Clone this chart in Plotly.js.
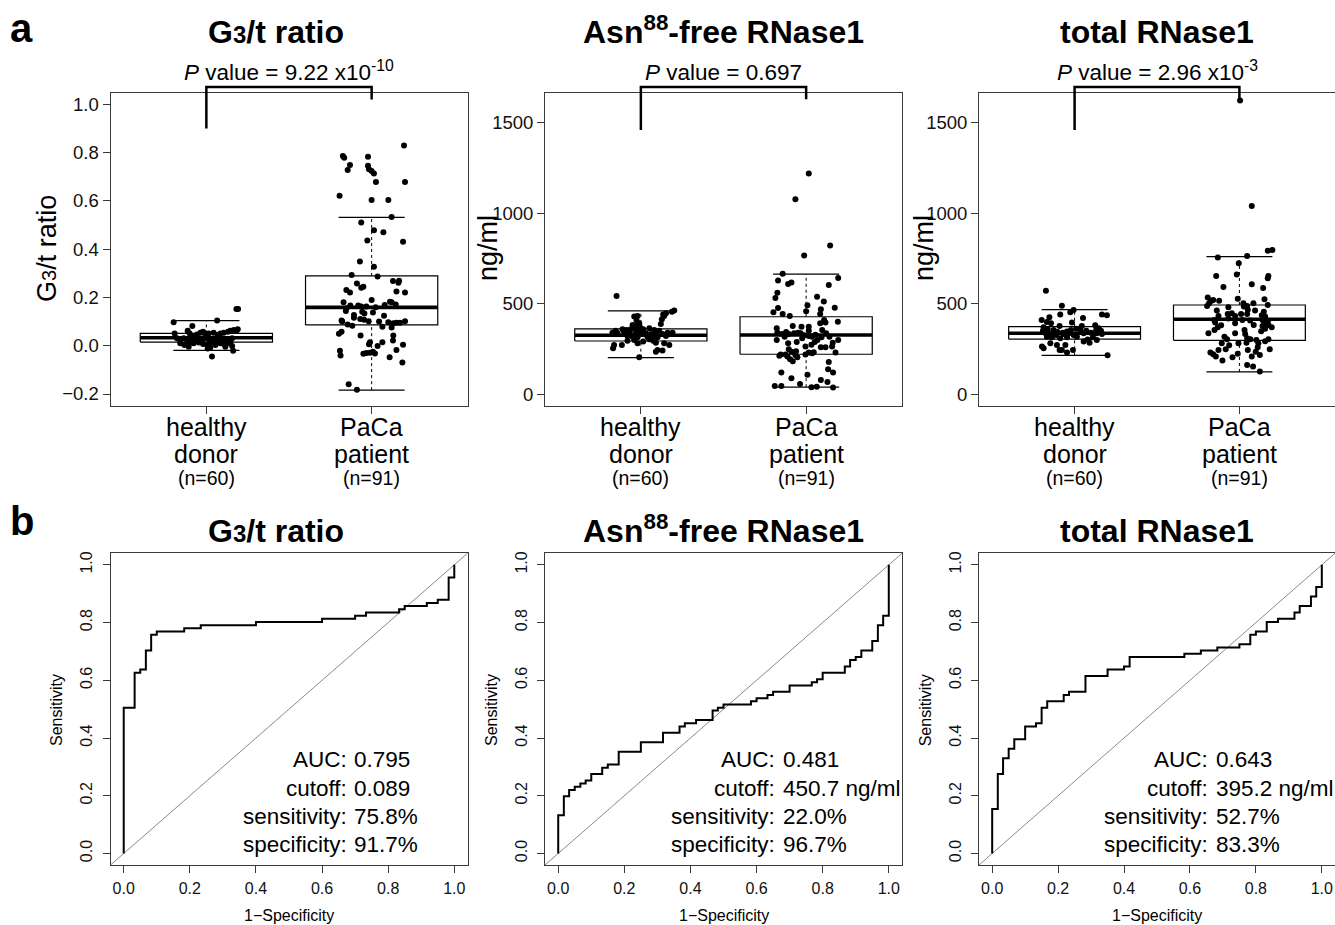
<!DOCTYPE html>
<html><head><meta charset="utf-8">
<script src="https://cdn.plot.ly/plotly-3.0.1.min.js"></script>
<style>html,body{margin:0;padding:0;background:#fff}#chart{width:1335px;height:925px}</style>
</head><body><div id="chart"></div>
<script>
// ================= DATA =================
const groupLine1 = ['healthy', 'PaCa'];
const groupLine2 = ['donor', 'patient'];
const groupN = ['(n=60)', '(n=91)'];
const panelTitles = ['G<span style="font-size:24px">3</span>/t ratio', 'Asn<sup>88</sup>-free RNase1', 'total RNase1'];
const pValueText = ['<i>P</i> value = 9.22 x10<sup>-10</sup>', '<i>P</i> value = 0.697', '<i>P</i> value = 2.96 x10<sup>-3</sup>'];
const yTitles = ['G<span style="font-size:20px">3</span>/t ratio', 'ng/ml', 'ng/ml'];

// G3/t ratio
const g3HealthyVal = [0.097,0.104,0.152,0.152,0.082,0.051,0.062,0.051,0.037,0.047,
 0.054,0.058,0.048,0.051,0.054,0.044,0.051,0.054,0.058,0.062,
 0.065,0.062,0.068,0.031,0.024,0.031,0.024,0.026,0.024,0.017,
 0.024,0.031,0.026,0.024,0.017,0.024,0.021,0.026,0.024,0.031,
 0.010,0.003,0.007,0.010,0.013,0.007,0.003,0.010,0.003,0.010,
 0.007,0.010,0.017,-0.004,-0.011,-0.004,-0.001,-0.021,-0.045,-0.007];
const g3HealthyJit = [-0.198,0.065,0.182,0.192,-0.085,-0.192,-0.113,-0.101,-0.077,-0.057,
 -0.036,-0.020,-0.006,0.014,0.044,0.069,0.085,0.105,0.131,0.145,
 0.166,0.182,0.190,-0.178,-0.158,-0.137,-0.117,-0.097,-0.067,-0.046,
 -0.026,-0.012,0.014,0.034,0.055,0.075,0.095,0.115,0.135,0.156,
 -0.158,-0.133,-0.107,-0.077,-0.046,-0.020,0.004,0.024,0.055,0.085,
 0.105,0.129,0.145,-0.107,0.008,0.115,0.156,0.162,0.034,0.024];
const g3PacaVal = [0.829,0.786,0.779,0.783,0.749,0.728,0.746,0.731,0.724,0.714,
 0.678,0.678,0.621,0.604,0.604,0.533,0.510,0.478,0.470,0.436,
 0.431,0.349,0.327,0.293,0.287,0.268,0.269,0.261,0.258,0.244,
 0.240,0.231,0.221,0.225,0.220,0.180,0.189,0.182,0.180,0.171,
 0.167,0.155,0.167,0.163,0.169,0.163,0.159,0.141,0.133,0.138,
 0.144,0.116,0.111,0.124,0.104,0.100,0.108,0.101,0.100,0.097,
 0.093,0.095,0.095,0.101,0.088,0.083,0.076,0.050,0.058,0.042,
 0.042,0.014,0.006,0.014,-0.001,0.022,0.004,-0.018,-0.021,-0.041,
 -0.033,-0.030,-0.029,-0.025,-0.032,-0.048,-0.069,-0.160,-0.182,0.127,0.079];
const g3PacaJit = [0.196,-0.174,-0.166,-0.022,-0.131,-0.145,-0.022,-0.016,0.000,0.014,
 0.026,0.202,-0.194,0.000,0.101,0.121,-0.063,0.014,0.071,-0.026,
 0.190,-0.071,0.014,-0.121,0.036,0.129,0.166,0.162,-0.089,-0.050,
 -0.063,-0.153,-0.131,0.150,0.202,-0.170,0.000,0.111,0.121,0.146,
 -0.129,-0.153,-0.081,-0.063,0.079,-0.032,0.024,-0.057,-0.044,0.008,
 -0.156,-0.107,-0.069,0.075,-0.182,-0.178,-0.046,-0.018,0.045,0.101,
 0.131,0.150,0.172,0.202,-0.145,-0.117,0.121,-0.198,-0.182,-0.067,
 0.131,-0.010,-0.016,0.065,0.036,0.129,0.190,0.150,-0.192,-0.188,
 -0.050,-0.032,-0.010,0.008,0.020,0.109,0.186,-0.139,-0.089,-0.107,0.065];
const g3Lo = [-0.019, -0.184], g3Q1 = [0.015, 0.086], g3Med = [0.033, 0.159], g3Q3 = [0.051, 0.289], g3Hi = [0.104, 0.532];

// Asn88-free RNase1 (ng/ml)
const asnHealthyVal = [543,440,447,456,462,429,432,407,392,414,
 432,383,377,373,388,351,359,355,359,364,
 355,359,364,355,351,340,337,342,340,337,
 340,337,333,337,333,340,340,322,318,315,
 318,309,315,322,272,254,272,296,300,281,
 291,296,285,281,272,235,245,241,204,304];
const asnHealthyJit = [-0.147,0.135,0.152,0.188,0.202,-0.040,-0.020,-0.026,-0.010,0.127,
 0.141,-0.050,-0.026,-0.006,0.121,-0.152,-0.111,-0.087,-0.061,-0.040,
 -0.020,0.014,0.051,0.081,0.111,-0.172,-0.141,-0.101,-0.067,-0.030,
 0.000,0.030,0.061,0.087,0.131,0.162,0.192,-0.081,-0.050,-0.020,
 0.040,0.071,0.101,0.152,-0.162,-0.168,-0.115,-0.081,-0.040,-0.020,
 0.014,0.075,0.091,0.141,0.172,0.091,0.101,0.131,-0.010,0.051];
const asnPacaVal = [1220,1077,821,766,666,642,628,609,617,604,
 561,532,539,512,469,491,458,477,453,443,
 432,478,401,443,410,396,392,377,373,373,
 351,364,340,344,333,333,337,340,337,326,
 322,318,329,337,318,300,281,289,274,289,
 315,259,259,263,300,248,234,219,212,219,
 208,193,182,237,204,219,230,226,232,230,
 178,138,120,120,88,107,57,79,68,46,
 46,39,42,37,318,309,263,300,217,355,285];
const asnPacaJit = [0.016,-0.065,0.145,-0.012,-0.142,0.194,-0.170,-0.109,-0.089,0.137,
 -0.174,-0.186,0.066,0.107,0.089,0.008,0.000,-0.170,-0.198,-0.142,
 -0.099,0.173,0.192,0.085,0.109,0.117,0.085,-0.081,-0.028,0.016,
 0.016,-0.178,-0.174,-0.121,-0.146,-0.105,-0.073,-0.049,-0.033,-0.012,
 0.016,0.036,0.056,0.121,0.141,-0.178,-0.109,-0.057,0.032,0.052,
 0.093,0.089,0.117,0.157,0.194,-0.105,-0.089,-0.154,-0.162,-0.125,
 -0.113,-0.097,-0.081,-0.061,-0.053,-0.004,0.016,0.036,0.046,0.178,
 0.137,0.133,0.163,-0.150,-0.089,0.008,-0.037,0.089,0.129,-0.190,
 -0.150,0.032,0.064,0.163,-0.130,-0.024,-0.004,0.068,-0.065,0.097,0.161];
const asnLo = [202, 39], asnQ1 = [294, 221], asnMed = [326, 327], asnQ3 = [361, 428], asnHi = [460, 664];

// total RNase1 (ng/ml)
const totHealthyVal = [572,489,453,465,440,425,410,440,436,421,
 399,392,377,396,377,381,370,359,351,355,
 344,340,346,355,362,359,351,355,364,351,
 337,333,327,333,337,327,337,340,337,333,
 318,315,309,315,318,303,315,300,285,291,
 263,254,281,272,272,245,245,230,245,215];
const totHealthyJit = [-0.174,-0.077,-0.026,-0.006,-0.087,-0.153,-0.200,0.166,0.196,0.051,
 -0.168,-0.143,-0.091,-0.016,0.044,0.125,-0.188,-0.163,-0.192,-0.127,
 -0.103,-0.071,-0.046,-0.022,0.010,0.034,0.071,0.131,0.146,0.160,
 -0.176,-0.147,-0.111,-0.067,-0.036,-0.006,0.055,0.099,0.135,0.166,
 -0.168,-0.137,-0.087,-0.046,0.014,0.079,0.111,0.135,0.091,0.055,
 -0.198,-0.188,-0.147,-0.107,-0.056,-0.091,-0.077,-0.046,-0.010,0.200];
const totPacaVal = [1623,1040,793,797,755,764,723,662,653,640,
 653,592,607,587,534,515,521,517,488,462,
 480,528,502,488,502,524,493,502,443,447,
 432,443,484,466,462,443,436,429,410,396,
 418,410,407,410,392,403,383,370,337,355,
 370,381,337,355,333,309,377,362,348,304,
 281,270,285,304,300,281,292,304,259,248,
 230,221,208,245,248,186,204,223,245,235,
 217,162,153,125,432,392,383,318,281,208,456];
const totPacaJit = [0.004,0.075,0.172,0.200,-0.131,0.047,-0.004,-0.016,0.176,0.172,
 -0.141,-0.097,0.075,0.144,-0.192,-0.172,-0.159,-0.123,-0.196,-0.137,
 -0.067,-0.010,0.024,0.047,0.085,0.152,0.172,-0.184,-0.071,-0.046,
 -0.026,0.010,0.027,0.051,0.095,0.047,0.136,0.156,-0.153,-0.147,
 -0.067,0.018,0.065,0.140,0.152,0.172,0.176,0.196,-0.188,-0.151,
 -0.131,-0.111,-0.026,0.031,0.035,0.047,0.140,0.156,0.132,-0.075,
 -0.107,-0.062,0.043,0.067,0.103,0.115,0.156,0.176,0.111,0.184,
 -0.176,-0.159,-0.143,-0.127,-0.083,-0.103,-0.042,-0.010,0.051,0.099,
 0.124,0.047,0.083,0.124,-0.127,-0.026,0.087,-0.091,-0.006,0.075,0.148];
const totLo = [215, 123], totQ1 = [304, 298], totMed = [337, 414], totQ3 = [373, 493], totHi = [467, 760];

// ROC curves (1-specificity, sensitivity)
const g3Fpr = [0,0.033,0.05,0.067,0.083,0.1,0.183,0.233,0.4,0.6,0.7,0.733,0.833,0.85,0.917,0.95,0.983,1.0,1.0];
const g3Tpr = [0,0.505,0.626,0.637,0.703,0.758,0.769,0.780,0.791,0.802,0.813,0.824,0.835,0.846,0.857,0.868,0.879,0.956,1.0];
const asnFpr = [0,0.017,0.033,0.05,0.067,0.083,0.1,0.133,0.15,0.183,0.25,0.317,0.367,0.383,0.417,0.467,0.483,0.5,0.583,0.6,0.633,0.65,0.7,0.767,0.783,0.8,0.867,0.883,0.9,0.917,0.95,0.967,0.983,1.0,1.0];
const asnTpr = [0,0.132,0.198,0.220,0.231,0.242,0.253,0.275,0.297,0.308,0.352,0.385,0.418,0.440,0.451,0.462,0.495,0.505,0.516,0.527,0.538,0.549,0.560,0.582,0.593,0.604,0.626,0.648,0.670,0.681,0.703,0.736,0.791,0.824,1.0];
const totFpr = [0,0.017,0.033,0.05,0.067,0.1,0.133,0.15,0.167,0.217,0.233,0.283,0.35,0.4,0.417,0.583,0.633,0.683,0.75,0.783,0.8,0.833,0.867,0.917,0.933,0.967,0.983,1.0,1.0];
const totTpr = [0,0.154,0.275,0.330,0.363,0.396,0.440,0.451,0.505,0.527,0.549,0.560,0.615,0.637,0.648,0.681,0.692,0.703,0.714,0.725,0.758,0.769,0.802,0.813,0.835,0.857,0.890,0.923,1.0];

const rocAUC = ['0.795', '0.481', '0.643'];
const rocCutoff = ['0.089', '450.7 ng/ml', '395.2 ng/ml'];
const rocSens = ['75.8%', '22.0%', '52.7%'];
const rocSpec = ['91.7%', '96.7%', '83.3%'];
const rocLabels = ['AUC:', 'cutoff:', 'sensitivity:', 'specificity:'];

// ================= LAYOUT HELPERS =================
const W = 1335, H = 925;
const FONT = 'Liberation Sans, Arial, Helvetica, sans-serif';
const px2x = p => p / W;
const px2y = p => 1 - p / H;
const colPx = [[110.5, 467.5], [545, 902], [979, 1335]];
const colDom = colPx.map(c => [px2x(c[0]), px2x(c[1])]);
const topDom = [px2y(406), px2y(93)];
const botDom = [px2y(865), px2y(553.3)];
const topRanges = [[-0.2497, 1.047], [-65, 1664], [-65, 1664]];
const topTicks = [[-0.2, 0, 0.2, 0.4, 0.6, 0.8, 1.0], [0, 500, 1000, 1500], [0, 500, 1000, 1500]];
const rocRange = [-0.04, 1.04];
const BW = 0.4, CW = 0.2;

const axBase = {
  showline: true, mirror: true, linecolor: '#3a3a3a', linewidth: 1,
  ticks: 'outside', ticklen: 7, tickwidth: 1, tickcolor: '#3a3a3a',
  showgrid: false, zeroline: false, fixedrange: true,
  tickfont: {family: FONT, size: 16, color: '#111'}
};
const sfx = i => (i === 1 ? '' : String(i));
function toPaperY(v, dom, rng) { return dom[0] + (v - rng[0]) / (rng[1] - rng[0]) * (dom[1] - dom[0]); }
// bottom edge (px) of an annotation box whose text baseline sits at `base` px
const boxBottom = (base, size) => base + 0.212 * size + 2;

const layout = {
  width: W, height: H, margin: {l: 0, r: 0, t: 0, b: 0},
  paper_bgcolor: '#fff', plot_bgcolor: '#fff', showlegend: false,
  font: {family: FONT, color: '#000'},
  annotations: [], shapes: []
};
const traces = [];

const boxStats = [
  [g3Lo, g3Q1, g3Med, g3Q3, g3Hi],
  [asnLo, asnQ1, asnMed, asnQ3, asnHi],
  [totLo, totQ1, totMed, totQ3, totHi]
];
const pointSets = [
  [[g3HealthyVal, g3HealthyJit], [g3PacaVal, g3PacaJit]],
  [[asnHealthyVal, asnHealthyJit], [asnPacaVal, asnPacaJit]],
  [[totHealthyVal, totHealthyJit], [totPacaVal, totPacaJit]]
];
const bracketY = [[0.9, 1.02, 1.072], [1460, 1630, 1697], [1460, 1630, 1697]];
const rocSets = [[g3Fpr, g3Tpr], [asnFpr, asnTpr], [totFpr, totTpr]];
const colonX = [0.68, 0.662, 0.66];
const textRowsY = [0.3257, 0.2262, 0.1280, 0.0319];
const yTitleTopPx = [47, 488, 924];
const yTitleBotPx = [56, 491, 925.3];
const titleShift = [-13, 0, 0];

const ann = (o) => layout.annotations.push(Object.assign({showarrow: false}, o));

for (let i = 0; i < 3; i++) {
  const t = i + 1, b = i + 4;
  const xa = 'x' + sfx(t), ya = 'y' + sfx(t), xb = 'x' + b, yb = 'y' + b;
  // ----- top axes -----
  layout['xaxis' + sfx(t)] = Object.assign({}, axBase, {
    domain: colDom[i], anchor: ya, range: [0.42, 2.58],
    tickvals: [1, 2], showticklabels: false
  });
  layout['yaxis' + sfx(t)] = Object.assign({}, axBase, {
    domain: topDom, anchor: xa, range: topRanges[i],
    tickvals: topTicks[i], tickformat: i === 0 ? '.1f' : 'd',
    tickfont: {family: FONT, size: 18.5, color: '#111'}
  });
  // ----- bottom axes -----
  layout['xaxis' + b] = Object.assign({}, axBase, {
    domain: colDom[i], anchor: yb, range: rocRange,
    tickvals: [0, 0.2, 0.4, 0.6, 0.8, 1.0], tickformat: '.1f', ticklabelstandoff: 2
  });
  layout['yaxis' + b] = Object.assign({}, axBase, {
    domain: botDom, anchor: xb, range: rocRange,
    tickvals: [0, 0.2, 0.4, 0.6, 0.8, 1.0], tickformat: '.1f', tickangle: -90, ticklabelstandoff: 4
  });

  // ----- box plot (R style) -----
  const [lo, q1, med, q3, hi] = boxStats[i];
  const bx = [], by = [], mx = [], my = [], wx = [], wy = [], cx = [], cy = [];
  for (let g = 0; g < 2; g++) {
    const c = g + 1;
    bx.push(c - BW, c + BW, c + BW, c - BW, c - BW, null);
    by.push(q1[g], q1[g], q3[g], q3[g], q1[g], null);
    mx.push(c - BW, c + BW, null); my.push(med[g], med[g], null);
    wx.push(c, c, null, c, c, null); wy.push(lo[g], q1[g], null, q3[g], hi[g], null);
    cx.push(c - CW, c + CW, null, c - CW, c + CW, null); cy.push(lo[g], lo[g], null, hi[g], hi[g], null);
  }
  traces.push({type: 'scatter', mode: 'lines', xaxis: xa, yaxis: ya, x: wx, y: wy, line: {color: '#000', width: 1, dash: '3px,3px'}, hoverinfo: 'skip'});
  traces.push({type: 'scatter', mode: 'lines', xaxis: xa, yaxis: ya, x: cx, y: cy, line: {color: '#000', width: 1.2}, hoverinfo: 'skip'});
  traces.push({type: 'scatter', mode: 'lines', xaxis: xa, yaxis: ya, x: bx, y: by, line: {color: '#000', width: 1.2}, hoverinfo: 'skip'});
  traces.push({type: 'scatter', mode: 'lines', xaxis: xa, yaxis: ya, x: mx, y: my, line: {color: '#000', width: 3.6}, hoverinfo: 'skip'});
  for (let g = 0; g < 2; g++) {
    const [vals, jit] = pointSets[i][g];
    traces.push({type: 'scatter', mode: 'markers', xaxis: xa, yaxis: ya,
      x: jit.map(j => g + 1 + j), y: vals,
      marker: {color: '#000', size: 6, line: {width: 0}}, cliponaxis: false});
  }

  // category labels (3 lines)
  for (let g = 0; g < 2; g++) {
    ann({xref: xa, yref: 'paper', x: g + 1, y: px2y(boxBottom(436, 25)), yanchor: 'bottom',
      text: groupLine1[g], font: {family: FONT, size: 25, color: '#000'}});
    ann({xref: xa, yref: 'paper', x: g + 1, y: px2y(boxBottom(463, 25)), yanchor: 'bottom',
      text: groupLine2[g], font: {family: FONT, size: 25, color: '#000'}});
    ann({xref: xa, yref: 'paper', x: g + 1, y: px2y(boxBottom(485, 19.5)), yanchor: 'bottom',
      text: groupN[g], font: {family: FONT, size: 19.5, color: '#000'}});
  }

  // bracket + p value
  const [yl, yr, ytop] = bracketY[i];
  const pl = toPaperY(yl, topDom, topRanges[i]), pr = toPaperY(yr, topDom, topRanges[i]), pt = toPaperY(ytop, topDom, topRanges[i]);
  layout.shapes.push({type: 'path', xref: xa, yref: 'paper',
    path: `M 1,${pl} L 1,${pt} L 2,${pt} L 2,${pr}`, line: {color: '#000', width: 2.5}});
  ann({xref: xa, yref: 'paper', x: 1.5, y: px2y(boxBottom(80, 22.5)), yanchor: 'bottom', xanchor: 'center',
    text: pValueText[i], font: {family: FONT, size: 22.5, color: '#000'}});

  // titles
  ann({xref: xa + ' domain', yref: 'paper', x: 0.5, xshift: titleShift[i], y: px2y(boxBottom(43.5, 32)), yanchor: 'bottom',
    text: '<b>' + panelTitles[i] + '</b>', font: {family: FONT, size: 32, color: '#000'}});
  ann({xref: xb + ' domain', yref: 'paper', x: 0.5, xshift: titleShift[i], y: px2y(boxBottom(542.7, 32)), yanchor: 'bottom',
    text: '<b>' + panelTitles[i] + '</b>', font: {family: FONT, size: 32, color: '#000'}});

  // axis titles
  ann({xref: 'paper', yref: 'paper', x: px2x(yTitleTopPx[i]), y: px2y(248), xanchor: 'center', yanchor: 'middle',
    textangle: -90, text: yTitles[i], font: {family: FONT, size: 27, color: '#000'}});
  ann({xref: 'paper', yref: 'paper', x: px2x(yTitleBotPx[i]), y: px2y(710), xanchor: 'center', yanchor: 'middle',
    textangle: -90, text: 'Sensitivity', font: {family: FONT, size: 16, color: '#000'}});
  ann({xref: xb + ' domain', yref: 'paper', x: 0.5, y: px2y(915.5), yanchor: 'middle',
    text: '1\u2212Specificity', font: {family: FONT, size: 16, color: '#000'}});

  // ROC
  layout.shapes.push({type: 'line', xref: xb + ' domain', yref: 'y' + b + ' domain', x0: 0, y0: 0, x1: 1, y1: 1,
    line: {color: '#8a8a8a', width: 1}, layer: 'below'});
  traces.push({type: 'scatter', mode: 'lines', xaxis: xb, yaxis: yb, x: rocSets[i][0], y: rocSets[i][1],
    line: {color: '#000', width: 2, shape: 'vh'}, hoverinfo: 'skip'});
  const vals = [rocAUC[i], rocCutoff[i], rocSens[i], rocSpec[i]];
  for (let r = 0; r < 4; r++) {
    ann({xref: xb, yref: yb, x: colonX[i], y: textRowsY[r], xanchor: 'right', yanchor: 'middle',
      text: rocLabels[r], font: {family: FONT, size: 22.5, color: '#000'}});
    ann({xref: xb, yref: yb, x: colonX[i] + 0.012, y: textRowsY[r], xanchor: 'left', yanchor: 'middle',
      text: vals[r], font: {family: FONT, size: 22.5, color: '#000'}});
  }
}

// panel letters
ann({xref: 'paper', yref: 'paper', x: px2x(8), y: px2y(boxBottom(42, 40)), xanchor: 'left', yanchor: 'bottom',
  text: '<b>a</b>', font: {family: FONT, size: 40, color: '#000'}});
ann({xref: 'paper', yref: 'paper', x: px2x(8), y: px2y(boxBottom(535, 40)), xanchor: 'left', yanchor: 'bottom',
  text: '<b>b</b>', font: {family: FONT, size: 40, color: '#000'}});

Plotly.newPlot('chart', traces, layout, {displayModeBar: false, staticPlot: true});
</script>
</body></html>
